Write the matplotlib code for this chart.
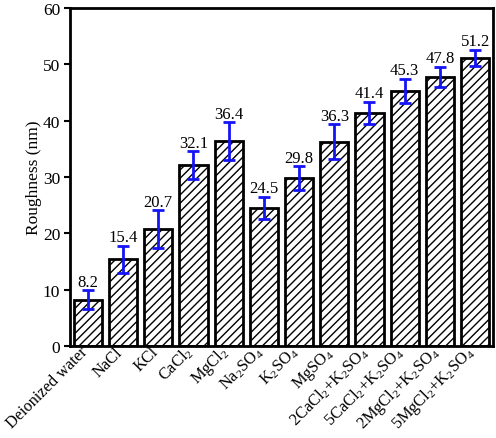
import matplotlib
matplotlib.use("Agg")
import matplotlib.pyplot as plt
import matplotlib.transforms as mtransforms
import numpy as np

categories = ["Deionized water", "NaCl", "KCl", "CaCl$_2$", "MgCl$_2$", "Na$_2$SO$_4$",
              "K$_2$SO$_4$", "MgSO$_4$", "2CaCl$_2$+K$_2$SO$_4$", "5CaCl$_2$+K$_2$SO$_4$",
              "2MgCl$_2$+K$_2$SO$_4$", "5MgCl$_2$+K$_2$SO$_4$"]
values = [8.2, 15.4, 20.7, 32.1, 36.4, 24.5, 29.8, 36.3, 41.4, 45.3, 47.8, 51.2]
errors = [1.7, 2.4, 3.4, 2.5, 3.3, 2.0, 2.1, 3.1, 2.0, 2.2, 1.8, 1.4]
yticks = [0, 10, 20, 30, 40, 50, 60]

plt.rcParams['font.family'] = ['Liberation Serif', 'DejaVu Serif']
plt.rcParams['mathtext.default'] = 'regular'
plt.rcParams['hatch.linewidth'] = 1.0

fig = plt.figure(figsize=(4.96, 4.39), dpi=100)
ax = fig.add_axes([0.141, 0.21, 0.853, 0.769])

x = np.arange(len(categories))
ax.bar(x, values, width=0.8, color='white', edgecolor='black', linewidth=2, hatch='////', zorder=2)
ax.errorbar(x, values, yerr=errors, fmt='none', ecolor='#1414f5', elinewidth=2,
            capsize=4, capthick=2, zorder=3)
for xi, v, e in zip(x, values, errors):
    ax.text(xi, v + e + 0.8, f"{v}", ha='center', va='baseline', fontsize=12)

ax.set_xlim(-0.51, 11.51)
ax.set_ylim(0, 60)
ax.set_yticks(yticks)
ax.set_xticks(x)
ax.set_xticklabels(categories, rotation=45, ha='right', va='baseline',
                   rotation_mode='anchor', fontsize=11.8)
offset = mtransforms.ScaledTranslation(5 / 100, 0, fig.dpi_scale_trans)
for lbl in ax.get_xticklabels():
    lbl.set_transform(lbl.get_transform() + offset)
ax.tick_params(axis='x', length=0, pad=4.5)
ax.tick_params(axis='y', direction='out', length=4, width=1.5, labelsize=12.5, pad=3)
ax.set_ylabel("Roughness (nm)", fontsize=12.5)
ax.yaxis.set_label_coords(-0.066, 0.5)
for s in ax.spines.values():
    s.set_linewidth(2)

fig.savefig("out.png", dpi=100)
